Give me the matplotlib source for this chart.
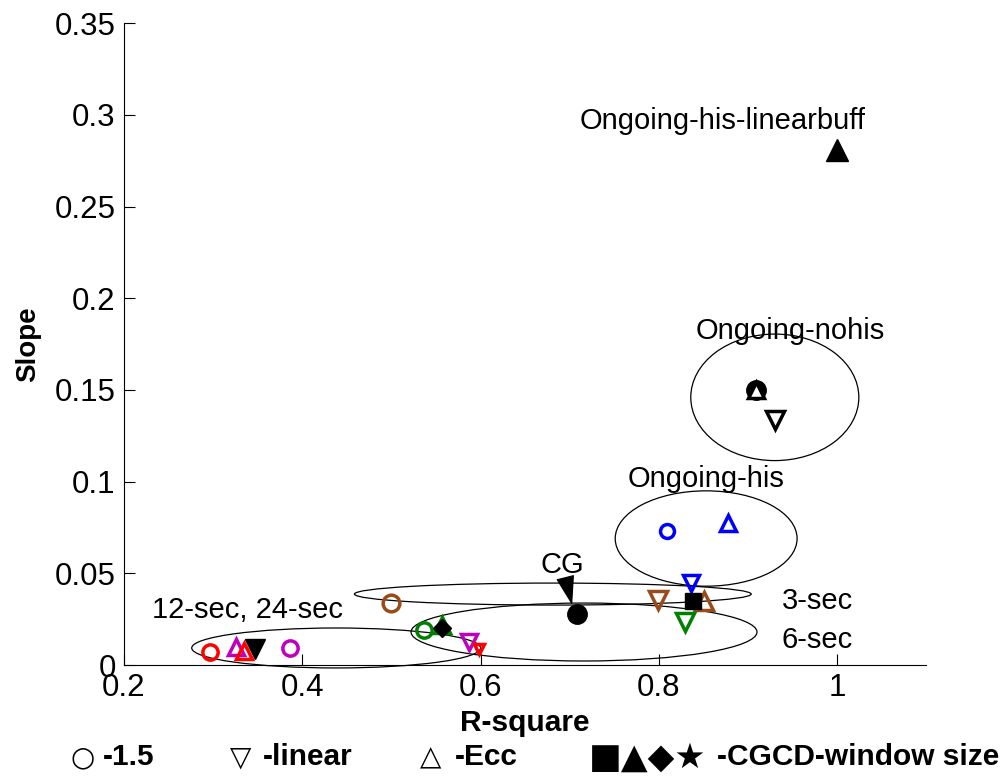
import matplotlib
matplotlib.use('Agg')
import matplotlib.pyplot as plt
from matplotlib.patches import Ellipse

plt.rcParams['font.family'] = ['Liberation Sans', 'DejaVu Sans']

# points: x (R-square), y (slope), marker, colour, size, filled
pt_x = [1.0, 0.909, 0.909, 0.930,
        0.809, 0.878, 0.836,
        0.799, 0.851, 0.838, 0.829,
        0.708,
        0.500, 0.537, 0.557, 0.557, 0.587, 0.598,
        0.297, 0.326, 0.335, 0.347, 0.386]
pt_y = [0.281, 0.150, 0.150, 0.1335,
        0.073, 0.0774, 0.0447,
        0.0354, 0.0349, 0.035, 0.0234,
        0.028,
        0.034, 0.019, 0.022, 0.020, 0.0125, 0.009,
        0.007, 0.010, 0.0076, 0.0087, 0.0093]
pt_marker = ['^', 'o', '^', 'v',
             'o', '^', 'v',
             'v', '^', 's', 'v',
             'o',
             'o', 'o', '^', 'D', 'v', 'v',
             'o', '^', '^', 'v', 'o']
pt_color = ['k', 'k', 'k', 'k',
            'b', 'b', 'b',
            '#994c1a', '#994c1a', 'k', 'g',
            'k',
            '#994c1a', 'g', 'g', 'k', '#bf00bf', 'r',
            'r', '#bf00bf', 'r', 'k', '#bf00bf']
pt_size = [16, 14, 12, 13,
           10, 12, 12,
           13, 13, 11, 13,
           14,
           12, 11, 12, 9, 12, 7,
           11, 12, 12, 15, 11]
pt_filled = [True, True, False, False,
             False, False, False,
             False, False, True, False,
             True,
             False, False, False, True, False, False,
             False, False, False, True, False]

# ellipses: centre x, centre y, width, height
ell_x = [0.930, 0.853, 0.681, 0.716, 0.438]
ell_y = [0.146, 0.069, 0.0387, 0.018, 0.0093]
ell_w = [0.1885, 0.204, 0.445, 0.388, 0.324]
ell_h = [0.069, 0.052, 0.012, 0.0316, 0.0218]

# labels
lab_text = ['Ongoing-his-linearbuff', 'Ongoing-nohis', 'Ongoing-his',
            '3-sec', '6-sec', '12-sec, 24-sec']
lab_x = [0.872, 0.947, 0.853, 0.978, 0.978, 0.338]
lab_y = [0.2965, 0.182, 0.1015, 0.0349, 0.0136, 0.0300]

x_ticks = [0.2, 0.4, 0.6, 0.8, 1.0]
x_labels = ['0.2', '0.4', '0.6', '0.8', '1']
y_ticks = [0, 0.05, 0.1, 0.15, 0.2, 0.25, 0.3, 0.35]
y_labels = ['0', '0.05', '0.1', '0.15', '0.2', '0.25', '0.3', '0.35']

fig = plt.figure(figsize=(10.03, 7.76), dpi=100)
ax = fig.add_axes([0.1236, 0.143, 0.8, 0.827])

for ex, ey, ew, eh in zip(ell_x, ell_y, ell_w, ell_h):
    ax.add_patch(Ellipse((ex, ey), ew, eh, fill=False, ec='k', lw=0.9, clip_on=False))

for x, y, m, c, s, f in zip(pt_x, pt_y, pt_marker, pt_color, pt_size, pt_filled):
    ax.plot(x, y, marker=m, ms=s, mec=c, mew=2.5 if not f else 1,
            mfc=c if f else 'white' if (m == '^' and c == 'k') else 'none',
            ls='none', clip_on=False, zorder=3)

for t, x, y in zip(lab_text, lab_x, lab_y):
    ax.text(x, y, t, fontsize=21, ha='center', va='center')

ax.annotate('CG', xy=(0.7027, 0.0327), xytext=(0.6915, 0.0545),
            fontsize=21, ha='center', va='center',
            arrowprops=dict(arrowstyle='-|>,head_length=0.95,head_width=0.3',
                            color='k', lw=0.8, mutation_scale=20,
                            shrinkA=0, shrinkB=0))

ax.set_xlim(0.2, 1.1)
ax.set_ylim(0, 0.35)
ax.set_xticks(x_ticks)
ax.set_xticklabels(x_labels)
ax.set_yticks(y_ticks)
ax.set_yticklabels(y_labels)
ax.tick_params(direction='in', length=8, width=0.8, labelsize=22.5, pad=6)
ax.spines['top'].set_visible(False)
ax.spines['right'].set_visible(False)
ax.set_xlabel('R-square', fontsize=21.5, fontweight='bold', labelpad=4)
ax.set_ylabel('Slope', fontsize=20, fontweight='bold', labelpad=10)

# legend line at the bottom
leg_sym = ['\u25cb', '\u25bd', '\u25b3', '\u25a0\u25b2\u25c6\u2605']
leg_sym_size = [20, 20, 20, 25]
leg_txt = ['-1.5', '-linear', '-Ecc', '-CGCD-window size']
leg_sx = [0.082, 0.240, 0.429, 0.587]
leg_tx = [0.103, 0.262, 0.454, 0.715]
for s, fs, t, sx, tx in zip(leg_sym, leg_sym_size, leg_txt, leg_sx, leg_tx):
    fig.text(sx, 0.024, s, fontsize=fs, family='DejaVu Sans',
             ha='center' if len(s) == 1 else 'left', va='center')
    fig.text(tx, 0.024, t, fontsize=21.5, fontweight='bold', ha='left', va='center')

plt.savefig('out.png', dpi=100)
